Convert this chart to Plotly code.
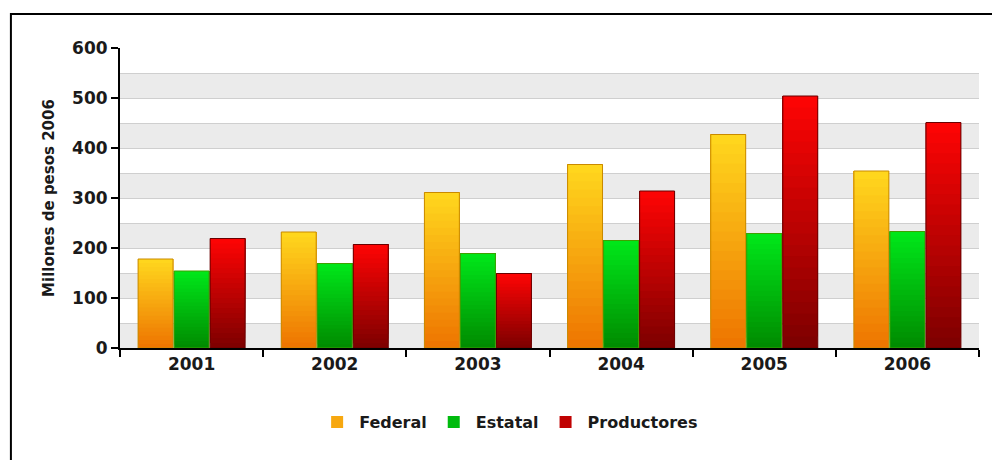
import plotly.graph_objects as go

years = ["2001", "2002", "2003", "2004", "2005", "2006"]
federal = [178, 232, 311, 367, 427, 354]
estatal = [154, 169, 189, 215, 229, 233]
productores = [219, 207, 149, 314, 504, 451]
series_names = ["Federal", "Estatal", "Productores"]
y_tickvals = [0, 100, 200, 300, 400, 500, 600]

# bottom colour, top colour, outline colour
styles = {
    "Federal": ("#EE7400", "#FFD81E", "#C98A00"),
    "Estatal": ("#008A00", "#00E81A", "#3FA000"),
    "Productores": ("#7C0000", "#FF0404", "#6A0000"),
}


def hex2rgb(h):
    h = h.lstrip("#")
    return tuple(int(h[i:i + 2], 16) for i in (0, 2, 4))


def lerp(c1, c2, t):
    a, b = hex2rgb(c1), hex2rgb(c2)
    return "rgb(%d,%d,%d)" % tuple(round(a[k] + (b[k] - a[k]) * t) for k in range(3))


FONT = "DejaVu Sans"
N = 22
fig = go.Figure()
for name, vals in zip(series_names, [federal, estatal, productores]):
    bot, top, outline = styles[name]
    for i in range(N):
        t = (i + 0.5) / N
        # each slice reaches the bar top; later slices cover the upper part (no seams)
        fig.add_trace(go.Bar(
            x=years,
            y=[v * (N - i) / N for v in vals],
            base=[v * i / N for v in vals],
            offsetgroup=name, alignmentgroup="g",
            name=name, legendgroup=name,
            showlegend=(i == N // 2),
            marker=dict(color=lerp(bot, top, t), line=dict(width=0)),
            hoverinfo="skip",
        ))
    fig.add_trace(go.Bar(
        x=years, y=vals, offsetgroup=name, alignmentgroup="g",
        name=name, legendgroup=name, showlegend=False,
        marker=dict(color="rgba(0,0,0,0)", line=dict(color=outline, width=1)),
    ))

# alternating background bands
step = 50
shapes = []
for k in range(0, 600, 2 * step):
    shapes.append(dict(type="rect", xref="paper", yref="y", x0=0, x1=1,
                       y0=k, y1=k + step, fillcolor="#EBEBEB",
                       line=dict(width=0), layer="below"))
# outer frame
shapes.append(dict(type="rect", xref="paper", yref="paper",
                   x0=-0.127, x1=1.1, y0=-0.5, y1=1.113,
                   line=dict(color="black", width=2), fillcolor="rgba(0,0,0,0)"))

fig.update_layout(
    width=992, height=460,
    margin=dict(l=120, r=13, t=48, b=112),
    paper_bgcolor="white", plot_bgcolor="white",
    barmode="group", bargap=0.245, bargroupgap=0.03,
    shapes=shapes,
    font=dict(family=FONT, color="#1a1a1a"),
    legend=dict(orientation="h", x=0.453, xanchor="center", y=-0.247, yanchor="middle",
                font=dict(family=FONT, size=16, weight="bold", color="#1a1a1a"),
                itemclick=False, traceorder="normal", itemwidth=34),
    xaxis=dict(type="category", showline=True, linecolor="black", linewidth=2,
               ticks="outside", tickson="boundaries", ticklen=7, tickwidth=2,
               tickcolor="black", showgrid=False,
               tickfont=dict(family=FONT, size=17, weight="bold", color="#1a1a1a")),
    yaxis=dict(range=[0, 600], tickvals=y_tickvals, showline=True, linecolor="black",
               linewidth=2, ticks="outside", ticklen=7, tickwidth=2, tickcolor="black",
               showgrid=True, gridcolor="#CFCFCF", gridwidth=1, zeroline=False,
               minor=dict(dtick=50, showgrid=True, gridcolor="#CFCFCF", gridwidth=1),
               tickfont=dict(family=FONT, size=17, weight="bold", color="#1a1a1a"),
               title=dict(text="Millones de pesos 2006", standoff=14,
                          font=dict(family=FONT, size=15, weight="bold", color="#1a1a1a"))),
)

fig.write_html("out.html")
